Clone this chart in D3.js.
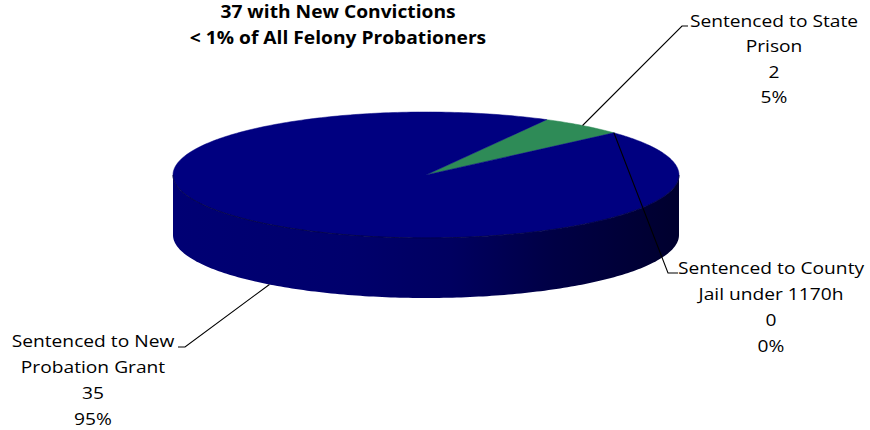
<!DOCTYPE html>
<html>
<head>
<meta charset="utf-8">
<script src="https://cdn.jsdelivr.net/npm/d3@7"></script>
<style>
  html, body { margin: 0; padding: 0; background: #fff; }
  svg { display: block; }
  text { font-family: "Open Sans", Lato, sans-serif; fill: #000; }
</style>
</head>
<body>
<svg id="chart" width="870" height="430"></svg>
<script>
// ---- data ----
const titleLines = ["37 with New Convictions", "< 1% of All Felony Probationers"];
const categories = ["Sentenced to State Prison", "Sentenced to County Jail under 1170h", "Sentenced to New Probation Grant"];
const labelLines = [["Sentenced to State", "Prison"], ["Sentenced to County", "Jail under 1170h"], ["Sentenced to New", "Probation Grant"]];
const values = [2, 0, 35];
const percents = ["5%", "0%", "95%"];
const colors = ["#2E8B57", "#2E8B57", "#000080"];

// ---- layout ----
const svg = d3.select("#chart");
const cx = 426, cy = 175, rx = 253, ry = 63, depth = 60;
const startDeg = 28.5;
const sx = 1.13; // horizontal text stretch to match reference
const rad = d => d * Math.PI / 180;

const pie = d3.pie().sort(null).value(d => d)
  .startAngle(rad(startDeg)).endAngle(rad(startDeg + 360));
const arcs = pie(values);

const px = a => cx + rx * Math.sin(a);
const py = a => cy - ry * Math.cos(a);

const defs = svg.append("defs");
const grad = defs.append("linearGradient").attr("id", "sideGrad")
  .attr("gradientUnits", "userSpaceOnUse")
  .attr("x1", cx - rx).attr("x2", cx + rx).attr("y1", 0).attr("y2", 0);
[[0, "#000074"], [0.35, "#00006c"], [0.55, "#000060"], [0.75, "#000045"], [1, "#00002e"]]
  .forEach(([o, c]) => grad.append("stop").attr("offset", o).attr("stop-color", c));

function arcPoints(a0, a1, dy) {
  const n = Math.max(2, Math.ceil(Math.abs(a1 - a0) / rad(1)));
  const pts = [];
  for (let i = 0; i <= n; i++) {
    const a = a0 + (a1 - a0) * i / n;
    pts.push([px(a), py(a) + dy]);
  }
  return pts;
}
const line = d3.line();

const g = svg.append("g");
arcs.forEach((d, i) => {
  if (d.endAngle - d.startAngle <= 0) return;
  for (const shift of [0, 2 * Math.PI, -2 * Math.PI]) {
    const s = Math.max(d.startAngle + shift, rad(90));
    const e = Math.min(d.endAngle + shift, rad(270));
    if (e > s) {
      const top = arcPoints(s, e, 0);
      const bot = arcPoints(e, s, depth);
      g.append("path")
        .attr("d", line(top.concat(bot)) + "Z")
        .attr("fill", i === 2 ? "url(#sideGrad)" : d3.color(colors[i]).darker(1))
        .attr("stroke", "none");
    }
  }
});

arcs.forEach((d, i) => {
  if (d.endAngle - d.startAngle <= 0) return;
  const pts = [[cx, cy]].concat(arcPoints(d.startAngle, d.endAngle, 0));
  g.append("path")
    .attr("d", line(pts) + "Z")
    .attr("fill", colors[i])
    .attr("stroke", colors[i])
    .attr("stroke-width", 0.5);
});

g.append("path")
  .attr("d", line(arcPoints(rad(90), rad(270), 0)))
  .attr("fill", "none")
  .attr("stroke", "#00003a")
  .attr("stroke-width", 0.8);

// title
svg.append("g").attr("transform", `translate(338,0) scale(${sx},1)`)
  .selectAll("text").data(titleLines).join("text")
  .attr("x", 0).attr("y", (d, i) => 18 + i * 26)
  .attr("text-anchor", "middle")
  .attr("font-weight", "bold")
  .attr("font-size", 17)
  .text(d => d);

// labels & leader lines
const labelSpec = [
  { anchorOnBottom: false, elbow: [682, 26], end: [688, 26], tx: 774, ty: 27, gap: 25.5 },
  { anchorOnBottom: false, elbow: [668, 273], end: [678, 273], tx: 771, ty: 274, gap: 26 },
  { anchorOnBottom: true, elbow: [185, 347], end: [178, 347], tx: 93, ty: 347, gap: 26 }
];
arcs.forEach((d, i) => {
  const sp = labelSpec[i];
  const mid = (d.startAngle + d.endAngle) / 2;
  const start = [px(mid), py(mid) + (sp.anchorOnBottom ? depth : 0)];
  svg.append("path")
    .attr("d", line([start, sp.elbow, sp.end]))
    .attr("fill", "none").attr("stroke", "#000").attr("stroke-width", 1.1);
  const lines = labelLines[i].concat([String(values[i]), percents[i]]);
  svg.append("g").attr("transform", `translate(${sp.tx},${sp.ty}) scale(${sx},1)`)
    .selectAll("text").data(lines).join("text")
    .attr("x", 0).attr("y", (t, j) => j * sp.gap)
    .attr("text-anchor", "middle")
    .attr("font-size", 17)
    .text(t => t);
});
</script>
</body>
</html>
